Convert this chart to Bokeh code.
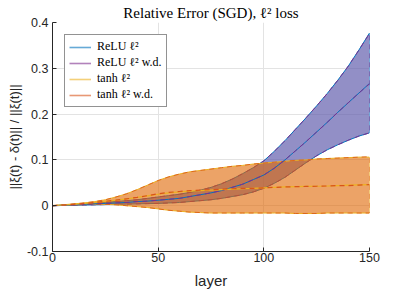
from bokeh.plotting import figure
from bokeh.models import Range1d, FixedTicker, CustomJSTickFormatter, Legend, LegendItem
from bokeh.embed import file_html
from bokeh.resources import INLINE

# ---- data (every 5 layers) ----
layer = [0, 5, 10, 15, 20, 25, 30, 35, 40, 45, 50, 55, 60, 65, 70, 75,
         80, 85, 90, 95, 100, 105, 110, 115, 120, 125, 130, 135, 140, 145, 150]

relu_mean = [0, 0.001, 0.002, 0.003, 0.004, 0.005, 0.006, 0.007, 0.009, 0.010, 0.012, 0.014, 0.016, 0.020, 0.024, 0.028,
             0.033, 0.040, 0.047, 0.057, 0.067, 0.082, 0.100, 0.120, 0.140, 0.161, 0.182, 0.204, 0.225, 0.246, 0.267]
relu_upper = [0, 0.0015, 0.003, 0.0045, 0.006, 0.0075, 0.009, 0.011, 0.013, 0.016, 0.019, 0.022, 0.025, 0.029, 0.034, 0.040,
              0.048, 0.058, 0.070, 0.083, 0.098, 0.119, 0.142, 0.167, 0.192, 0.218, 0.245, 0.274, 0.305, 0.340, 0.377]
relu_lower = [0, 0.0005, 0.001, 0.0015, 0.002, 0.0025, 0.003, 0.0035, 0.004, 0.0045, 0.005, 0.006, 0.007, 0.009, 0.011, 0.013,
              0.016, 0.020, 0.024, 0.030, 0.038, 0.049, 0.062, 0.078, 0.094, 0.109, 0.122, 0.133, 0.143, 0.152, 0.159]

relu_wd_mean = [0, 0.001, 0.002, 0.003, 0.004, 0.005, 0.006, 0.007, 0.009, 0.010, 0.012, 0.014, 0.016, 0.020, 0.024, 0.028,
                0.033, 0.040, 0.047, 0.057, 0.067, 0.082, 0.100, 0.120, 0.140, 0.161, 0.182, 0.204, 0.225, 0.246, 0.266]
relu_wd_upper = [0, 0.0015, 0.003, 0.0045, 0.006, 0.0075, 0.009, 0.011, 0.013, 0.016, 0.019, 0.022, 0.025, 0.029, 0.034, 0.040,
                 0.048, 0.058, 0.070, 0.083, 0.098, 0.119, 0.142, 0.167, 0.192, 0.218, 0.245, 0.274, 0.305, 0.340, 0.376]
relu_wd_lower = [0, 0.0005, 0.001, 0.0015, 0.002, 0.0025, 0.003, 0.0035, 0.004, 0.0045, 0.005, 0.006, 0.007, 0.009, 0.011, 0.013,
                 0.016, 0.020, 0.024, 0.030, 0.038, 0.049, 0.062, 0.078, 0.094, 0.109, 0.122, 0.133, 0.143, 0.152, 0.159]

tanh_mean = [0, 0.0015, 0.003, 0.005, 0.007, 0.0095, 0.012, 0.015, 0.018, 0.0215, 0.025, 0.028, 0.030, 0.032, 0.033, 0.034,
             0.035, 0.036, 0.037, 0.038, 0.039, 0.040, 0.041, 0.0415, 0.042, 0.0425, 0.043, 0.044, 0.045, 0.0455, 0.046]
tanh_upper = [0, 0.002, 0.004, 0.006, 0.009, 0.013, 0.019, 0.026, 0.035, 0.045, 0.055, 0.063, 0.069, 0.074, 0.077, 0.080,
              0.083, 0.086, 0.088, 0.091, 0.093, 0.095, 0.097, 0.099, 0.100, 0.102, 0.103, 0.104, 0.105, 0.106, 0.106]
tanh_lower = [0, 0.001, 0.002, 0.0025, 0.003, 0.003, 0.002, 0.0, -0.002, -0.004, -0.007, -0.010, -0.012, -0.014, -0.015, -0.016,
              -0.016, -0.016, -0.016, -0.016, -0.016, -0.016, -0.016, -0.017, -0.017, -0.017, -0.016, -0.016, -0.016, -0.016, -0.016]

tanh_wd_mean = [0, 0.0015, 0.003, 0.005, 0.007, 0.0095, 0.012, 0.015, 0.018, 0.022, 0.026, 0.029, 0.031, 0.033, 0.034, 0.035,
                0.036, 0.037, 0.038, 0.038, 0.039, 0.040, 0.041, 0.0415, 0.042, 0.0425, 0.043, 0.044, 0.044, 0.045, 0.046]
tanh_wd_upper = [0, 0.002, 0.004, 0.006, 0.009, 0.013, 0.019, 0.026, 0.035, 0.045, 0.055, 0.063, 0.069, 0.074, 0.077, 0.080,
                 0.083, 0.086, 0.088, 0.091, 0.093, 0.095, 0.097, 0.099, 0.100, 0.102, 0.103, 0.104, 0.105, 0.106, 0.107]
tanh_wd_lower = [0, 0.001, 0.002, 0.0025, 0.003, 0.003, 0.002, 0.0, -0.002, -0.004, -0.007, -0.010, -0.012, -0.014, -0.015, -0.016,
                 -0.016, -0.016, -0.016, -0.016, -0.016, -0.016, -0.016, -0.017, -0.017, -0.017, -0.016, -0.016, -0.016, -0.016, -0.016]

x_ticks = [0, 50, 100, 150]
y_ticks = [-0.1, 0, 0.1, 0.2, 0.3, 0.4]

labels = ["ReLU \u2113\u00b2", "ReLU \u2113\u00b2 w.d.", "tanh \u2113\u00b2", "tanh \u2113\u00b2 w.d."]

BLUE = "#0072BD"
PURPLE = "#7E2F8E"
YELLOW = "#EDB120"
ORANGE = "#D95319"
DARK = "#262626"


def band(lo, hi):
    return list(layer) + list(reversed(layer)), list(hi) + list(reversed(lo))


p = figure(width=391, height=291, output_backend="svg", toolbar_location=None,
           x_range=Range1d(0, 150), y_range=Range1d(-0.1, 0.4),
           min_border_left=52, min_border_right=22, min_border_top=22, min_border_bottom=39)

p.title.text = "Relative Error (SGD), \u2113\u00b2 loss"
p.title.text_font = "Liberation Serif"
p.title.text_font_size = "15px"
p.title.text_font_style = "normal"
p.title.align = "center"
p.title.standoff = 4
p.title.offset = 0
p.title.text_color = "#000000"

p.outline_line_color = None
p.background_fill_color = "white"

# ReLU bands
bx, by = band(relu_lower, relu_upper)
p.patch(bx, by, fill_color="#5A55A8", fill_alpha=0.66, line_color=BLUE, line_width=1)
bx, by = band(relu_wd_lower, relu_wd_upper)
p.patch(bx, by, fill_alpha=0, line_color=PURPLE, line_width=1, line_dash="5 4")

# tanh bands
bx, by = band(tanh_lower, tanh_upper)
p.patch(bx, by, fill_color="#DF6602", fill_alpha=0.6, line_color=YELLOW, line_width=1)
bx, by = band(tanh_wd_lower, tanh_wd_upper)
p.patch(bx, by, fill_alpha=0, line_color=ORANGE, line_width=1, line_dash="5 4", line_alpha=0.8)

# mean lines
p.line(layer, relu_mean, line_color=BLUE, line_width=1)
p.line(layer, relu_wd_mean, line_color=PURPLE, line_width=1, line_dash="5 4")
p.line(layer, tanh_mean, line_color=YELLOW, line_width=1.2)
p.line(layer, tanh_wd_mean, line_color=ORANGE, line_width=1.2, line_dash="5 4")

# legend-only glyphs (single point: nothing drawn in the plot, lighter solid swatches)
series_means = [relu_mean, relu_wd_mean, tanh_mean, tanh_wd_mean]
leg_colors = [BLUE, PURPLE, YELLOW, ORANGE]
items = []
for lab, col, ys in zip(labels, leg_colors, series_means):
    r = p.line(layer[:1], ys[:1], line_color=col, line_width=1.6, line_alpha=0.6)
    items.append(LegendItem(label=lab, renderers=[r]))

legend = Legend(items=items, location="top_left")
legend.margin = 12
legend.padding = 4
legend.spacing = 1
legend.label_height = 12
legend.glyph_height = 12
legend.glyph_width = 22
legend.label_standoff = 6
legend.label_text_font = "Liberation Serif"
legend.label_text_font_size = "12px"
legend.label_text_color = "#000000"
legend.border_line_color = DARK
legend.border_line_width = 1
legend.background_fill_color = "white"
legend.background_fill_alpha = 1
p.add_layout(legend, "center")

# axes
for ax in (p.xaxis[0], p.yaxis[0]):
    ax.axis_line_color = DARK
    ax.major_tick_line_color = DARK
    ax.major_tick_in = 4
    ax.major_tick_out = 0
    ax.minor_tick_line_color = None
    ax.major_label_text_font = "Liberation Sans"
    ax.major_label_text_font_size = "12.5px"
    ax.major_label_text_color = DARK
    ax.axis_label_text_font = "Liberation Sans"
    ax.axis_label_text_font_style = "normal"
    ax.axis_label_text_color = DARK

p.xaxis.ticker = FixedTicker(ticks=x_ticks)
p.yaxis.ticker = FixedTicker(ticks=y_ticks)
p.yaxis.formatter = CustomJSTickFormatter(code="return Math.abs(tick) < 1e-9 ? '0' : tick.toFixed(1);")

p.xaxis.axis_label = "layer"
p.xaxis.axis_label_text_font_size = "15px"
p.xaxis.major_label_standoff = 1
p.xaxis.axis_label_standoff = 7

p.yaxis.axis_label = "||\u03be(t) - \u03b4(t)|| / ||\u03be(t)||"
p.yaxis.axis_label_text_font_size = "13px"
p.yaxis.major_label_standoff = 4
p.yaxis.axis_label_standoff = 2

p.xgrid.grid_line_color = "#e3e3e3"
p.ygrid.grid_line_color = "#e3e3e3"

open("out.html", "w").write(file_html(p, INLINE))
